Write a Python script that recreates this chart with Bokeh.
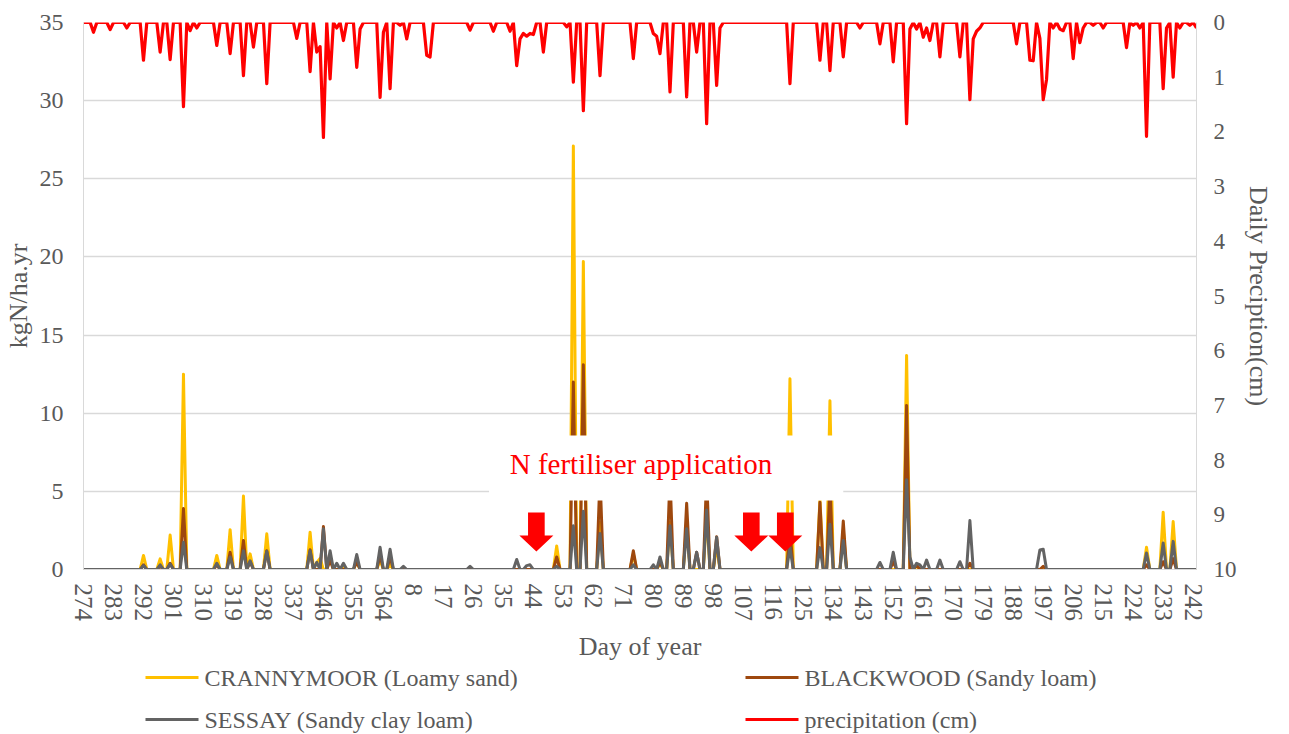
from bokeh.plotting import figure
from bokeh.layouts import column
from bokeh.models import Range1d, LinearAxis, FixedTicker, BoxAnnotation, Label
from bokeh.core.properties import value
from bokeh.embed import file_html
from bokeh.resources import INLINE

# ---- categories: day of year from 1 Oct to 31 Aug ----
day_labels = list(range(274, 366)) + list(range(1, 244))

# ---- N leaching (kgN/ha.yr), non-zero days only (others are 0) ----
crannymoor = {292: 0.9, 297: 0.68, 300: 2.2, 304: 12.5, 314: 0.9, 318: 2.55, 322: 4.7,
              324: 1.0, 329: 2.28, 342: 2.39, 344: 0.45, 345: 0.7, 348: 0.8, 352: 0.3,
              356: 0.5, 363: 0.6, 1: 0.3, 51: 1.5, 56: 27.1, 59: 19.7, 64: 3.0, 74: 1.0,
              82: 0.4, 85: 3.0, 90: 3.0, 96: 3.5, 99: 1.5, 121: 12.2, 130: 4.5, 133: 10.8,
              137: 2.5, 156: 13.7, 159: 0.2, 228: 1.43, 233: 3.67, 236: 3.07}
blackwood = {292: 0.3, 297: 0.2, 300: 0.4, 304: 3.9, 314: 0.3, 318: 1.1, 322: 1.86,
             324: 0.5, 329: 1.2, 342: 1.27, 346: 2.75, 348: 0.6, 356: 0.5, 363: 0.9,
             1: 0.8, 51: 0.8, 56: 12.0, 59: 13.1, 64: 6.0, 74: 1.2, 82: 0.5, 85: 6.0,
             90: 4.24, 93: 1.1, 96: 6.0, 99: 2.1, 121: 2.5, 130: 4.3, 133: 5.5, 137: 3.1,
             152: 0.5, 156: 10.5, 159: 0.3, 175: 0.4, 197: 0.2, 228: 0.3, 233: 0.5, 236: 0.7}
sessay = {292: 0.25, 297: 0.3, 300: 0.35, 304: 1.75, 314: 0.4, 318: 0.8, 322: 1.2,
          324: 0.55, 329: 1.17, 342: 1.2, 344: 0.45, 346: 2.6, 348: 1.2, 350: 0.4,
          352: 0.4, 356: 0.96, 363: 1.43, 1: 1.3, 5: 0.2, 25: 0.2, 39: 0.64, 42: 0.25,
          43: 0.3, 51: 0.2, 56: 2.8, 59: 3.73, 64: 2.3, 74: 0.3, 80: 0.3, 82: 0.8,
          85: 2.8, 90: 2.6, 93: 1.1, 96: 3.8, 99: 2.07, 121: 1.4, 130: 1.4, 133: 2.9,
          137: 1.86, 148: 0.45, 152: 1.1, 156: 5.74, 157: 0.8, 159: 0.4, 160: 0.3,
          162: 0.6, 166: 0.6, 172: 0.5, 175: 3.13, 196: 1.25, 197: 1.3, 228: 1.05,
          233: 1.7, 236: 1.8}

# ---- daily precipitation (cm), non-zero days only ----
precip = {277: 0.18, 282: 0.13, 287: 0.1, 292: 0.69, 297: 0.54, 300: 0.68, 304: 1.54,
          306: 0.15, 308: 0.1, 314: 0.42, 318: 0.57, 322: 0.97, 325: 0.45, 329: 1.12,
          338: 0.29, 342: 0.9, 344: 0.54, 345: 0.44, 346: 2.1, 348: 1.03, 350: 0.1,
          352: 0.33, 356: 0.82, 357: 0.12, 363: 1.37, 364: 0.18, 1: 1.21, 4: 0.05,
          6: 0.3, 12: 0.6, 13: 0.63, 25: 0.14, 32: 0.16, 37: 0.16, 39: 0.79, 40: 0.3,
          41: 0.2, 42: 0.25, 43: 0.2, 44: 0.22, 47: 0.54, 54: 0.08, 56: 1.09, 59: 1.61,
          64: 0.97, 74: 0.66, 80: 0.2, 81: 0.25, 82: 0.57, 85: 1.27, 90: 1.36, 93: 0.54,
          96: 1.85, 99: 1.15, 100: 0.1, 121: 1.12, 130: 0.69, 133: 0.88, 137: 0.63,
          142: 0.1, 148: 0.39, 152: 0.72, 156: 1.85, 157: 0.12, 159: 0.12, 161: 0.27,
          162: 0.1, 163: 0.33, 166: 0.63, 172: 0.63, 175: 1.41, 176: 0.3, 177: 0.16,
          178: 0.1, 189: 0.39, 193: 0.69, 194: 0.7, 196: 0.29, 197: 1.41, 198: 1.04,
          200: 0.1, 202: 0.12, 203: 0.15, 206: 0.66, 208: 0.37, 209: 0.1, 212: 0.05,
          215: 0.1, 222: 0.46, 224: 0.05, 226: 0.1, 228: 2.08, 233: 1.21, 234: 0.1,
          236: 1.0, 238: 0.1, 241: 0.05, 243: 0.1}

# fertiliser application arrows (category position) and label
arrow_pos = [135.9, 200.4, 210.6]
annot_text = "N fertiliser application"

series_names = ["CRANNYMOOR (Loamy sand)", "BLACKWOOD (Sandy loam)",
                "SESSAY (Sandy clay loam)", "precipitation (cm)"]
series_colors = ["#FFC000", "#9E480E", "#636363", "#FF0000"]

FONT = "Liberation Serif"
TXT = "#595959"
GRID = "#D9D9D9"

x = list(range(len(day_labels)))
def expand(d):
    return [d.get(dd, 0.0) for dd in day_labels]

p = figure(width=1289, height=664, output_backend="svg", toolbar_location=None,
           x_range=Range1d(0, len(day_labels) - 1), y_range=Range1d(0, 35),
           min_border_left=83, min_border_right=93, min_border_top=22,
           min_border_bottom=95)
p.outline_line_color = None
p.background_fill_color = "white"
p.border_fill_color = "white"
p.extra_y_ranges = {"precip": Range1d(10, 0)}

for d, c in zip([crannymoor, blackwood, sessay], series_colors[:3]):
    p.line(x, expand(d), line_color=c, line_width=3, line_join="round")
p.line(x, expand(precip), line_color=series_colors[3], line_width=3.2, line_join="round",
       y_range_name="precip")

# axes
xa = p.xaxis[0]
xa.ticker = FixedTicker(ticks=list(range(0, len(day_labels), 9)))
xa.major_label_overrides = {i: str(day_labels[i]) for i in range(0, len(day_labels), 9)}
xa.major_label_orientation = "vertical"
xa.axis_label = "Day of year"
ya = p.yaxis[0]
ya.ticker = FixedTicker(ticks=list(range(0, 36, 5)))
ya.axis_label = "kgN/ha.yr"
ra = LinearAxis(y_range_name="precip", ticker=FixedTicker(ticks=list(range(0, 11))),
                axis_label="Daily Preciption(cm)")
p.add_layout(ra, "right")

for ax, fs in ((xa, "25px"), (ya, "24px"), (ra, "23px")):
    ax.axis_line_color = GRID
    ax.major_tick_line_color = None
    ax.minor_tick_line_color = None
    ax.major_label_text_font = FONT
    ax.major_label_text_font_size = fs
    ax.major_label_text_color = TXT
    ax.axis_label_text_font = FONT
    ax.axis_label_text_font_size = "26px"
    ax.axis_label_text_font_style = "normal"
    ax.axis_label_text_color = TXT
xa.major_label_standoff = 8
xa.axis_label_standoff = 8
ya.major_label_standoff = 14
ya.axis_label_standoff = 4
ra.major_label_standoff = 11
ra.axis_label_standoff = 4

p.xgrid.grid_line_color = None
p.ygrid.grid_line_color = GRID
p.ygrid.grid_line_width = 1.3

# annotation box & text
p.add_layout(BoxAnnotation(left=121.7, right=228, bottom=4.41, top=8.57,
                           fill_color="white", fill_alpha=1, line_color=None))
p.add_layout(Label(x=167.3, y=6.75, text=annot_text, text_align="center",
                   text_baseline="middle", text_color="#FF0000", text_font=FONT,
                   text_font_size="29px"))
# arrows
xs, ys = [], []
for c in arrow_pos:
    xs.append([c - 2.5, c + 2.5, c + 2.5, c + 5.1, c, c - 5.1, c - 2.5])
    ys.append([3.65, 3.65, 2.18, 2.18, 1.15, 2.18, 2.18])
p.patches(xs, ys, fill_color="#FF0000", line_color=None)

# ---- legend strip below the chart (frame aligned with chart frame: px 83..1196) ----
lf = figure(width=1289, height=70, output_backend="svg", toolbar_location=None,
            x_range=Range1d(83, 1196), y_range=Range1d(0, 70),
            min_border_left=83, min_border_right=93, min_border_top=0, min_border_bottom=0)
lf.axis.visible = False
lf.grid.visible = False
lf.outline_line_color = None
lf.border_fill_color = "white"
lf.background_fill_color = "white"
leg_x = [145, 745, 145, 745]
leg_y = [57, 57, 15, 15]
for i, (nm, c) in enumerate(zip(series_names, series_colors)):
    lf.segment(x0=[leg_x[i]], y0=[leg_y[i]], x1=[leg_x[i] + 53], y1=[leg_y[i]],
               line_color=c, line_width=3)
    lf.text(x=[leg_x[i] + 59], y=[leg_y[i]], text=[nm], text_font=value(FONT),
            text_font_size="24px", text_color=TXT, text_baseline="middle",
            text_align="left")

open("out.html", "w").write(file_html(column(p, lf, spacing=0), INLINE))
